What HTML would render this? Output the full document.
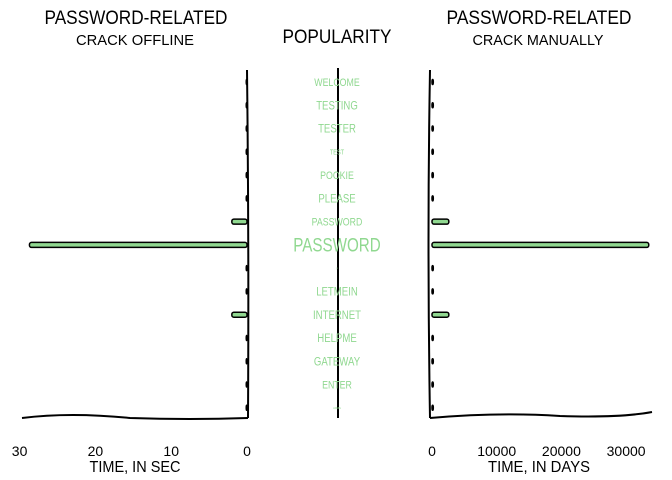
<!DOCTYPE html>
<html><head><meta charset="utf-8"><style>
html,body{margin:0;padding:0;background:#fff}
svg{display:block;font-family:"Liberation Sans","DejaVu Sans",sans-serif}
</style></head><body>
<svg id="chart" width="672" height="480" viewBox="0 0 672 480">
<g>
<text x="136" y="24" font-size="19" text-anchor="middle" textLength="183" lengthAdjust="spacingAndGlyphs">PASSWORD-RELATED</text>
<text x="135" y="45" font-size="15" text-anchor="middle" textLength="118" lengthAdjust="spacingAndGlyphs">CRACK OFFLINE</text>
<text x="337" y="43" font-size="19" text-anchor="middle" textLength="109" lengthAdjust="spacingAndGlyphs">POPULARITY</text>
<text x="539" y="24" font-size="19" text-anchor="middle" textLength="185" lengthAdjust="spacingAndGlyphs">PASSWORD-RELATED</text>
<text x="538" y="45" font-size="15" text-anchor="middle" textLength="131" lengthAdjust="spacingAndGlyphs">CRACK MANUALLY</text>
</g>
<g id="left"></g>
<g id="mid"></g>
<g id="right"></g>
<text x="135" y="472" font-size="16" text-anchor="middle" textLength="91" lengthAdjust="spacingAndGlyphs">TIME, IN SEC</text>
<text x="539" y="472" font-size="16" text-anchor="middle" textLength="102" lengthAdjust="spacingAndGlyphs">TIME, IN DAYS</text>
</svg>
<script>
const words = ["WELCOME","TESTING","TESTER","TEST","POOKIE","PLEASE","PASSWORD","PASSWORD","p","LETMEIN","INTERNET","HELPME","GATEWAY","ENTER","ADMIN"];
const popularity = [11,12,12,7,11,12,11,19,3,12,12,12,12,11,3];
const secOffline = [0.1,0.1,0.1,0.1,0.1,0.1,2,28.7,0.1,0.1,2,0.1,0.1,0.1,0.1];
const daysManual = [200,200,200,200,200,200,2600,33500,200,200,2600,200,200,200,200];
const leftTicks = [0,10,20,30];
const rightTicks = [0,10000,20000,30000];
const NS="http://www.w3.org/2000/svg";
function mk(p,tag,a){const e=document.createElementNS(NS,tag);for(const k in a)e.setAttribute(k,a[k]);p.appendChild(e);return e;}
const rowY=i=>82+i*23.27;
const lx=v=>247-v*7.58;
const rx=v=>432+v*0.00647;
const L=document.getElementById('left'),M=document.getElementById('mid'),R=document.getElementById('right');
let e=mk(L,'path',{d:'M247 70 Q249 240 248 418',fill:'none',stroke:'#000','stroke-width':2});

e=mk(L,'path',{d:'M22 418 Q70 412 130 418 Q190 420 248 418',fill:'none',stroke:'#000','stroke-width':2});

leftTicks.forEach(t=>{const tx=mk(L,'text',{x:lx(t),y:456,'font-size':14,'text-anchor':'middle'});tx.textContent=t;
});
secOffline.forEach((v,i)=>{const x=lx(v),y=rowY(i);
const b=mk(L,'rect',{x:x,y:y-2.5,width:247-x,height:5,rx:2,fill:'#90d890',stroke:'#000','stroke-width':1.5});
});
e=mk(M,'line',{x1:338,y1:68,x2:338,y2:418,stroke:'#000','stroke-width':2});

words.forEach((w,i)=>{const fs=popularity[i];
const t=mk(M,'text',{x:337,y:rowY(i)+fs*0.35,'font-size':fs,'text-anchor':'middle',fill:'#90d890',transform:'translate(337 0) scale(0.8 1) translate(-337 0)'});t.textContent=w;
});
e=mk(R,'path',{d:'M430 70 Q427 240 430 418',fill:'none',stroke:'#000','stroke-width':2});

e=mk(R,'path',{d:'M430 418 Q500 412 560 416 Q620 418 652 412',fill:'none',stroke:'#000','stroke-width':2});

rightTicks.forEach(t=>{const tx=mk(R,'text',{x:rx(t),y:456,'font-size':14,'text-anchor':'middle'});tx.textContent=t;
});
daysManual.forEach((v,i)=>{const x=rx(v),y=rowY(i);
const b=mk(R,'rect',{x:432,y:y-2.5,width:x-432,height:5,rx:2,fill:'#90d890',stroke:'#000','stroke-width':1.5});
});
</script>
</body></html>
